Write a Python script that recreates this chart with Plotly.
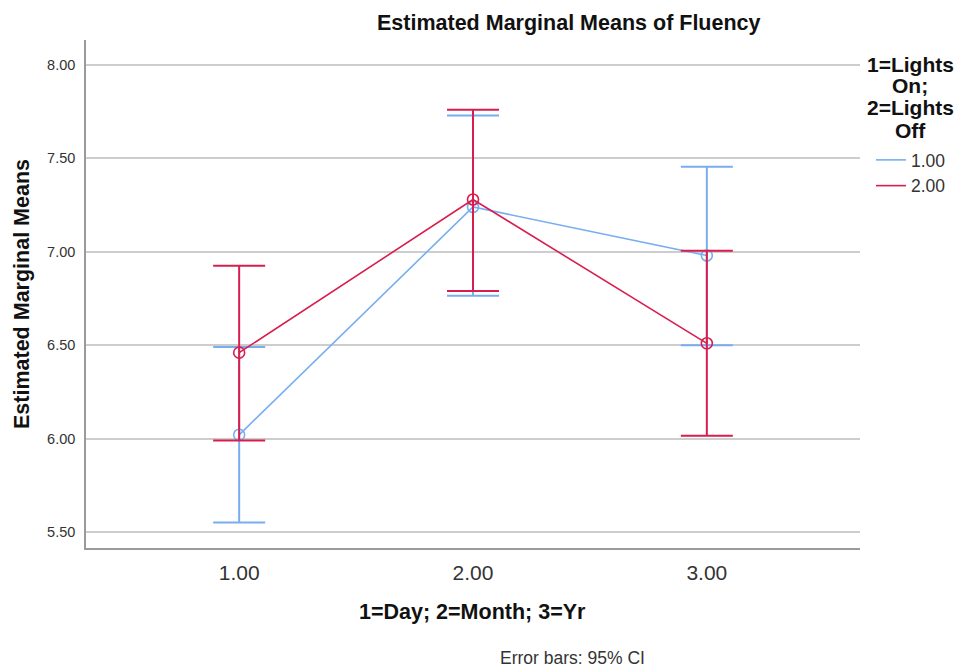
import plotly.graph_objects as go

x_levels = [1, 2, 3]
x_ticktext = ["1.00", "2.00", "3.00"]
series_names = ["1.00", "2.00"]

mean_on = [6.02, 7.24, 6.98]
lower_on = [5.55, 6.765, 6.50]
upper_on = [6.49, 7.73, 7.455]

mean_off = [6.46, 7.28, 6.51]
lower_off = [5.99, 6.79, 6.015]
upper_off = [6.925, 7.76, 7.005]

y_ticks = [5.5, 6.0, 6.5, 7.0, 7.5, 8.0]
legend_title_lines = ["1=Lights", "On;", "2=Lights", "Off"]

colors = ["#78aef0", "#d81e4e"]
FONT = "Liberation Sans, Arial, sans-serif"

# page offset compensation (browser body margin of 8px)
OFF = 8
PL, PR, PT, PB = 86, 860, 40, 548  # plot area in page pixels
PW, PH = PR - PL, PB - PT


def px(xp):
    return (xp - PL) / PW


def py(yp):
    return (PB - yp) / PH


fig = go.Figure()
for name, m, lo, hi, c in [
    (series_names[0], mean_on, lower_on, upper_on, colors[0]),
    (series_names[1], mean_off, lower_off, upper_off, colors[1]),
]:
    fig.add_trace(go.Scatter(
        x=x_levels, y=m, name=name, mode="lines+markers", showlegend=False,
        line=dict(color=c, width=1.6),
        marker=dict(symbol="circle-open", size=11, color=c, line=dict(width=1.6, color=c)),
        error_y=dict(type="data", symmetric=False,
                     array=[h - v for h, v in zip(hi, m)],
                     arrayminus=[v - l for v, l in zip(m, lo)],
                     color=c, thickness=2, width=26),
    ))
for name, c in zip(series_names, colors):
    fig.add_trace(go.Scatter(x=[None], y=[None], name=name, mode="lines",
                             line=dict(color=c, width=1.6), showlegend=True))

fig.update_layout(
    width=964 - OFF, height=669 - OFF,
    margin=dict(l=PL - OFF, r=964 - PR, t=PT - OFF, b=669 - PB),
    paper_bgcolor="white", plot_bgcolor="white",
    font=dict(family=FONT, color="#222"),
    showlegend=True,
    legend=dict(x=px(871), y=py(142), xanchor="left", yanchor="top",
                font=dict(size=17.5, color="#333"), bgcolor="rgba(0,0,0,0)",
                tracegroupgap=0),
    xaxis=dict(range=[0.345, 3.655], tickvals=x_levels, ticktext=x_ticktext,
               showgrid=False, zeroline=False, showline=True, linecolor="#9a9a9a",
               linewidth=1.5, ticks="", ticklabelstandoff=5,
               tickfont=dict(size=21, color="#333")),
    yaxis=dict(range=[5.414, 8.134], tickvals=y_ticks, tickformat=".2f",
               showgrid=True, gridcolor="#cdcdcd", gridwidth=1.5, zeroline=False,
               showline=True, linecolor="#9a9a9a", linewidth=1.5, ticks="",
               ticklabelstandoff=6, tickfont=dict(size=14.5, color="#333")),
)

fig.add_annotation(text="<b>Estimated Marginal Means of Fluency</b>", xref="paper", yref="paper",
                   x=px(569), y=py(23), xanchor="center", yanchor="middle",
                   showarrow=False, font=dict(size=21.5, color="#111"))
fig.add_annotation(text="<b>1=Day; 2=Month; 3=Yr</b>", xref="paper", yref="paper",
                   x=px(472), y=py(612), xanchor="center", yanchor="middle",
                   showarrow=False, font=dict(size=21.5, color="#111"))
fig.add_annotation(text="<b>Estimated Marginal Means</b>", xref="paper", yref="paper",
                   x=px(22), y=py(294), xanchor="center", yanchor="middle", textangle=-90,
                   showarrow=False, font=dict(size=21.5, color="#111"))
fig.add_annotation(text="Error bars: 95% CI", xref="paper", yref="paper",
                   x=px(572), y=py(658), xanchor="center", yanchor="middle",
                   showarrow=False, font=dict(size=17.5, color="#333"))
for i, line in enumerate(legend_title_lines):
    fig.add_annotation(text="<b>%s</b>" % line, xref="paper", yref="paper",
                       x=px(910), y=py(64 + 22 * i), xanchor="center", yanchor="middle",
                       showarrow=False, font=dict(size=21, color="#111"))

fig.write_html("out.html")
